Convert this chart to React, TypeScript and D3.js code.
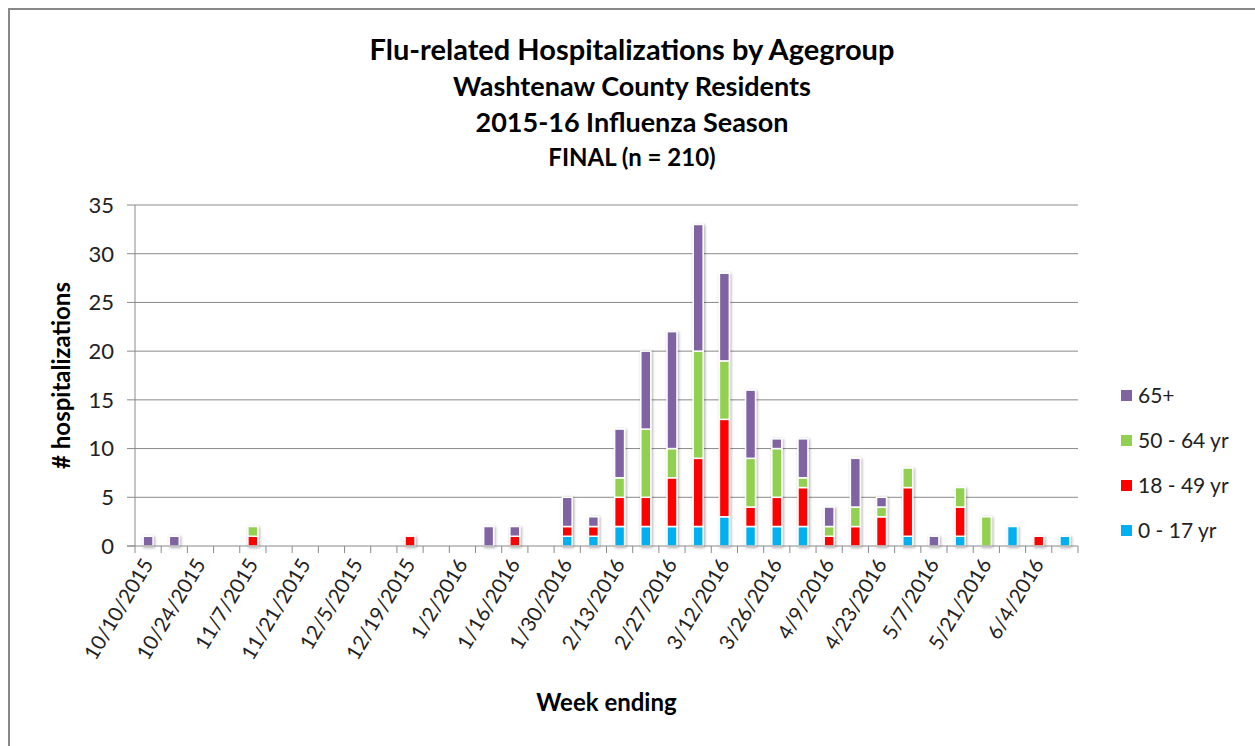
import React, { useEffect, useRef } from "react";
import * as d3 from "d3";

const weeks = [
  "10/10/2015", "10/17/2015", "10/24/2015", "10/31/2015", "11/7/2015", "11/14/2015",
  "11/21/2015", "11/28/2015", "12/5/2015", "12/12/2015", "12/19/2015", "12/26/2015",
  "1/2/2016", "1/9/2016", "1/16/2016", "1/23/2016", "1/30/2016", "2/6/2016",
  "2/13/2016", "2/20/2016", "2/27/2016", "3/5/2016", "3/12/2016", "3/19/2016",
  "3/26/2016", "4/2/2016", "4/9/2016", "4/16/2016", "4/23/2016", "4/30/2016",
  "5/7/2016", "5/14/2016", "5/21/2016", "5/28/2016", "6/4/2016", "6/11/2016",
];

const age0to17 = [0, 0, 0, 0, 0, 0, 0, 0, 0, 0, 0, 0, 0, 0, 0, 0, 1, 1, 2, 2, 2, 2, 3, 2, 2, 2, 0, 0, 0, 1, 0, 1, 0, 2, 0, 1];
const age18to49 = [0, 0, 0, 0, 1, 0, 0, 0, 0, 0, 1, 0, 0, 0, 1, 0, 1, 1, 3, 3, 5, 7, 10, 2, 3, 4, 1, 2, 3, 5, 0, 3, 0, 0, 1, 0];
const age50to64 = [0, 0, 0, 0, 1, 0, 0, 0, 0, 0, 0, 0, 0, 0, 0, 0, 0, 0, 2, 7, 3, 11, 6, 5, 5, 1, 1, 2, 1, 2, 0, 2, 3, 0, 0, 0];
const age65plus = [1, 1, 0, 0, 0, 0, 0, 0, 0, 0, 0, 0, 0, 2, 1, 0, 3, 1, 5, 8, 12, 13, 9, 7, 1, 4, 2, 5, 1, 0, 1, 0, 0, 0, 0, 0];

const seriesKeys = ["0 - 17 yr", "18 - 49 yr", "50 - 64 yr", "65+"];
const seriesColors = ["#00B0F0", "#FF0000", "#92D050", "#8064A2"];
const yTicks = [0, 5, 10, 15, 20, 25, 30, 35];

const FONT = "Lato, 'Open Sans', sans-serif";

const App: React.FC = () => {
  const svgRef = useRef<SVGSVGElement | null>(null);

  useEffect(() => {
    if (!svgRef.current) return;
    const svg = d3.select(svgRef.current);
    svg.selectAll("*").remove();

    const W = 1255, H = 746;
    const left = 135, right = 1078, top = 205, bottom = 546;

    // frame
    svg.append("rect").attr("x", 0).attr("y", 0).attr("width", W).attr("height", H).attr("fill", "#fff");
    svg.append("rect")
      .attr("x", 9).attr("y", 9).attr("width", W + 20).attr("height", H + 20)
      .attr("fill", "none").attr("stroke", "#888").attr("stroke-width", 2);

    const defs = svg.append("defs");
    const f = defs.append("filter").attr("id", "shadow").attr("x", "-50%").attr("y", "-50%").attr("width", "200%").attr("height", "200%");
    f.append("feDropShadow").attr("dx", 1).attr("dy", 1).attr("stdDeviation", 1.6)
      .attr("flood-color", "#000").attr("flood-opacity", 0.35);

    const table = weeks.map((w, i) => ({
      week: w,
      [seriesKeys[0]]: age0to17[i],
      [seriesKeys[1]]: age18to49[i],
      [seriesKeys[2]]: age50to64[i],
      [seriesKeys[3]]: age65plus[i],
    }));

    const x = d3.scaleBand<string>().domain(weeks).range([left, right]).paddingInner(0.62).paddingOuter(0.31);
    const y = d3.scaleLinear().domain([0, 35]).range([bottom, top]);
    const color = d3.scaleOrdinal<string, string>().domain(seriesKeys).range(seriesColors);

    // title
    const titles = [
      { t: "Flu-related Hospitalizations by Agegroup", y: 60, s: 29 },
      { t: "Washtenaw County Residents", y: 96, s: 27 },
      { t: "2015-16 Influenza Season", y: 132, s: 27 },
      { t: "FINAL (n = 210)", y: 166, s: 24 },
    ];
    svg.selectAll(".title").data(titles).enter().append("text")
      .attr("x", 632).attr("y", (d) => d.y)
      .attr("text-anchor", "middle")
      .style("font-family", FONT).style("font-weight", "bold")
      .style("font-size", (d) => `${d.s}px`).attr("fill", "#000")
      .text((d) => d.t);

    // gridlines
    svg.selectAll(".grid").data(yTicks.filter((d) => d > 0)).enter().append("line")
      .attr("x1", left).attr("x2", right)
      .attr("y1", (d) => y(d)).attr("y2", (d) => y(d))
      .attr("stroke", "#8a8a8a").attr("stroke-width", 1);

    // y axis
    svg.append("line").attr("x1", left).attr("x2", left).attr("y1", top).attr("y2", bottom)
      .attr("stroke", "#8a8a8a");
    svg.selectAll(".ytick").data(yTicks).enter().append("line")
      .attr("x1", left - 8).attr("x2", left)
      .attr("y1", (d) => y(d)).attr("y2", (d) => y(d))
      .attr("stroke", "#8a8a8a");
    svg.selectAll(".ylab").data(yTicks).enter().append("text")
      .attr("x", left - 21).attr("y", (d) => y(d)).attr("dy", "0.36em")
      .attr("text-anchor", "end")
      .style("font-family", FONT).style("font-size", "22px").attr("fill", "#222")
      .text((d) => d);

    svg.append("text")
      .attr("transform", `translate(70, ${(top + bottom) / 2}) rotate(-90)`)
      .attr("text-anchor", "middle")
      .style("font-family", FONT).style("font-weight", "bold").style("font-size", "24px")
      .text("# hospitalizations");

    // bars
    const stacked = d3.stack<any>().keys(seriesKeys)(table as any);
    const g = svg.append("g").attr("filter", "url(#shadow)");
    stacked.forEach((layer) => {
      g.selectAll(null).data(layer.filter((d) => d[1] - d[0] > 0)).enter().append("rect")
        .attr("x", (d: any) => x(d.data.week)!)
        .attr("width", x.bandwidth())
        .attr("y", (d) => y(d[1]))
        .attr("height", (d) => y(d[0]) - y(d[1]))
        .attr("fill", color(layer.key))
        .attr("stroke", "#fff").attr("stroke-width", 1.5);
    });

    // x axis
    svg.append("line").attr("x1", left - 8).attr("x2", right).attr("y1", bottom).attr("y2", bottom)
      .attr("stroke", "#8a8a8a");
    const bounds = d3.range(weeks.length + 1).map((i) => left + i * x.step());
    svg.selectAll(".xtick").data(bounds).enter().append("line")
      .attr("x1", (d) => d).attr("x2", (d) => d)
      .attr("y1", bottom).attr("y2", bottom + 7)
      .attr("stroke", "#8a8a8a");
    svg.selectAll(".xlab").data(weeks.filter((_, i) => i % 2 === 0)).enter().append("text")
      .attr("transform", (d) => `translate(${x(d)! + x.bandwidth() / 2 + 6}, ${bottom + 18}) rotate(-59)`)
      .attr("text-anchor", "end")
      .style("font-family", FONT).style("font-size", "20.5px").attr("fill", "#222")
      .text((d) => d);

    svg.append("text")
      .attr("x", (left + right) / 2).attr("y", 711)
      .attr("text-anchor", "middle")
      .style("font-family", FONT).style("font-weight", "bold").style("font-size", "24px")
      .text("Week ending");

    // legend
    const legendItems = seriesKeys.slice().reverse();
    const lg = svg.selectAll(".leg").data(legendItems).enter().append("g")
      .attr("transform", (_, i) => `translate(1121, ${395 + i * 45})`);
    lg.append("rect").attr("x", 0).attr("y", -5).attr("width", 11).attr("height", 11)
      .attr("fill", (d) => color(d));
    lg.append("text").attr("x", 17).attr("y", 0).attr("dy", "0.36em")
      .style("font-family", FONT).style("font-size", "21px").attr("fill", "#222")
      .text((d) => d);
  }, []);

  return <svg ref={svgRef} width={1255} height={746} style={{ position: "absolute", left: 0, top: 0 }} />;
};

export default App;
